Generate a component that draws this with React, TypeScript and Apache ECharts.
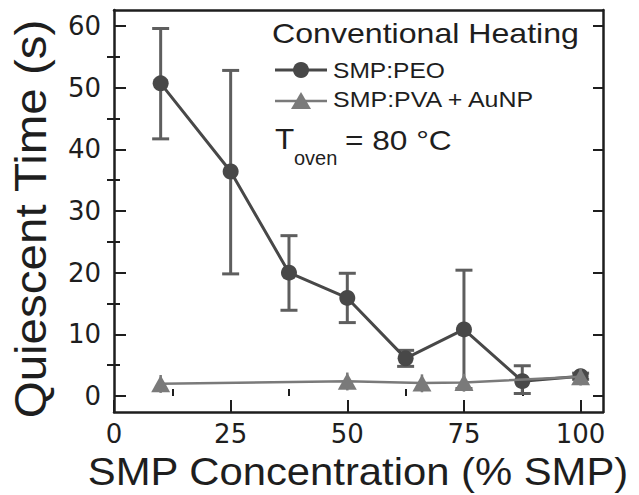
import React, { useEffect, useRef } from "react";
import * as echarts from "echarts";

// ---- data ----
const peoX = [10, 25, 37.5, 50, 62.5, 75, 87.5, 100];
const peoY = [50.7, 36.4, 20.0, 15.9, 6.1, 10.8, 2.4, 3.2];
const peoLow = [41.7, 19.8, 13.9, 11.9, 4.8, 1.2, 0.4, 2.7];
const peoHigh = [59.6, 52.8, 26.0, 19.9, 7.4, 20.4, 4.9, 3.7];

const pvaX = [10, 50, 66, 75, 100];
const pvaY = [2.0, 2.4, 2.1, 2.2, 3.1];
const pvaLow = [0.5, 0.9, 0.6, 0.7, 1.7];
const pvaHigh = [3.4, 3.8, 3.5, 3.6, 4.4];

const xMajor = [0, 25, 50, 75, 100];
const xMinor = [12.5, 37.5, 62.5, 87.5];
const yMajor = [0, 10, 20, 30, 40, 50, 60];
const yMinor = [5, 15, 25, 35, 45, 55];

const X_MIN = 0;
const X_MAX = 104.8;
const Y_MIN = -2.6;
const Y_MAX = 62.6;

const PEO_COLOR = "#484848";
const PEO_ERR = "#5e5e5e";
const PVA_COLOR = "#7a7a7a";
const AXIS = "#1e1e1e";
const FONT = "'Liberation Sans', Arial, sans-serif";
const TICK_FONT = "'DejaVu Sans', sans-serif";

function makeErr(capHalf: number, color: string, width: number) {
  return (params: any, api: any) => {
    const x = api.value(0);
    const lo = api.value(1);
    const hi = api.value(2);
    const top = api.coord([x, hi]);
    const bot = api.coord([x, lo]);
    const style = { stroke: color, lineWidth: width };
    const children: any[] = [
      { type: "line", shape: { x1: top[0], y1: top[1], x2: bot[0], y2: bot[1] }, style },
    ];
    if (capHalf > 0) {
      children.push(
        { type: "line", shape: { x1: top[0] - capHalf, y1: top[1], x2: top[0] + capHalf, y2: top[1] }, style },
        { type: "line", shape: { x1: bot[0] - capHalf, y1: bot[1], x2: bot[0] + capHalf, y2: bot[1] }, style }
      );
    }
    return { type: "group", children };
  };
}

function xAxisBase(position: string) {
  return {
    type: "value",
    min: X_MIN,
    max: X_MAX,
    position,
    offset: 0,
    splitLine: { show: false },
    axisLine: { show: false },
    axisTick: { show: false },
    axisLabel: { show: false },
  };
}
function yAxisBase(position: string) {
  return {
    type: "value",
    min: Y_MIN,
    max: Y_MAX,
    position,
    offset: 0,
    splitLine: { show: false },
    axisLine: { show: false },
    axisTick: { show: false },
    axisLabel: { show: false },
  };
}

export default function App() {
  const ref = useRef<HTMLDivElement>(null);
  useEffect(() => {
    if (!ref.current) return;
    const chart = echarts.init(ref.current, null, { renderer: "svg" });
    const lineStyle = { color: AXIS, width: 2.5 };
    const tickStyle = { color: AXIS, width: 2 };
    const option: any = {
      animation: false,
      backgroundColor: "#ffffff",
      grid: { left: 114, right: 36, top: 10, bottom: 83, outerBoundsMode: "none", containLabel: false },
      xAxis: [
        {
          ...xAxisBase("bottom"),
          axisLine: { show: true, onZero: false, lineStyle },
          axisTick: { show: true, inside: true, length: 12, customValues: xMajor, lineStyle: tickStyle },
          axisLabel: {
            show: true,
            customValues: xMajor,
            fontSize: 26,
            fontFamily: TICK_FONT,
            color: "#1e1e1e",
            margin: 9,
          },
        },
        {
          ...xAxisBase("bottom"),
          axisTick: { show: true, inside: true, length: 7, customValues: xMinor, lineStyle: tickStyle },
        },
        {
          ...xAxisBase("top"),
          axisLine: { show: true, onZero: false, lineStyle },
        },
      ],
      yAxis: [
        {
          ...yAxisBase("left"),
          axisLine: { show: true, onZero: false, lineStyle },
          axisTick: { show: true, inside: true, length: 12, customValues: yMajor, lineStyle: tickStyle },
          axisLabel: {
            show: true,
            customValues: yMajor,
            fontSize: 26,
            fontFamily: TICK_FONT,
            color: "#1e1e1e",
            margin: 13,
          },
        },
        {
          ...yAxisBase("left"),
          axisTick: { show: true, inside: true, length: 6, customValues: yMinor, lineStyle: tickStyle },
        },
        {
          ...yAxisBase("right"),
          axisLine: { show: true, onZero: false, lineStyle },
          axisTick: { show: true, inside: true, length: 10, customValues: yMajor, lineStyle: tickStyle },
        },
        {
          ...yAxisBase("right"),
          axisTick: { show: true, inside: true, length: 7, customValues: yMinor, lineStyle: tickStyle },
        },
      ],
      series: [
        {
          type: "custom",
          name: "PEO err",
          xAxisIndex: 0,
          yAxisIndex: 0,
          renderItem: makeErr(8.5, PEO_ERR, 3),
          data: peoX.map((x, i) => [x, peoLow[i], peoHigh[i]]),
          encode: { x: 0, y: [1, 2] },
          z: 2,
        },
        {
          type: "line",
          name: "SMP:PEO",
          xAxisIndex: 0,
          yAxisIndex: 0,
          data: peoX.map((x, i) => [x, peoY[i]]),
          symbol: "circle",
          symbolSize: 16,
          itemStyle: { color: PEO_COLOR },
          lineStyle: { color: PEO_COLOR, width: 3 },
          z: 3,
        },
        {
          type: "custom",
          name: "PVA err",
          xAxisIndex: 0,
          yAxisIndex: 0,
          renderItem: makeErr(0, PVA_COLOR, 2.5),
          data: pvaX.map((x, i) => [x, pvaLow[i], pvaHigh[i]]),
          encode: { x: 0, y: [1, 2] },
          z: 4,
        },
        {
          type: "line",
          name: "SMP:PVA + AuNP",
          xAxisIndex: 0,
          yAxisIndex: 0,
          data: pvaX.map((x, i) => [x, pvaY[i]]),
          symbol: "triangle",
          symbolSize: [19, 17],
          itemStyle: { color: PVA_COLOR },
          lineStyle: { color: PVA_COLOR, width: 2.5 },
          z: 5,
        },
      ],
      graphic: [
        {
          type: "text",
          x: 272,
          y: 33,
          scaleX: 1.147,
          style: { text: "Conventional Heating", fontSize: 28, fontFamily: FONT, fill: "#1e1e1e", align: "left", verticalAlign: "middle" },
        },
        { type: "line", shape: { x1: 275, y1: 70, x2: 327, y2: 70 }, style: { stroke: PEO_COLOR, lineWidth: 3 } },
        { type: "circle", shape: { cx: 301, cy: 70, r: 8 }, style: { fill: PEO_COLOR } },
        {
          type: "text",
          x: 333,
          y: 70,
          scaleX: 1.117,
          style: { text: "SMP:PEO", fontSize: 22, fontFamily: FONT, fill: "#1e1e1e", align: "left", verticalAlign: "middle" },
        },
        { type: "line", shape: { x1: 275, y1: 101, x2: 327, y2: 101 }, style: { stroke: PVA_COLOR, lineWidth: 2.5 } },
        { type: "polygon", shape: { points: [[291, 109], [311, 109], [301, 92]] }, style: { fill: PVA_COLOR } },
        {
          type: "text",
          x: 333,
          y: 100,
          scaleX: 1.136,
          style: { text: "SMP:PVA + AuNP", fontSize: 22, fontFamily: FONT, fill: "#1e1e1e", align: "left", verticalAlign: "middle" },
        },
        {
          type: "text",
          x: 275,
          y: 139,
          scaleX: 1.05,
          style: { text: "T", fontSize: 30, fontFamily: FONT, fill: "#1e1e1e", align: "left", verticalAlign: "middle" },
        },
        {
          type: "text",
          x: 294,
          y: 158,
          style: { text: "oven", fontSize: 20, fontFamily: FONT, fill: "#1e1e1e", align: "left", verticalAlign: "middle" },
        },
        {
          type: "text",
          x: 345,
          y: 140,
          scaleX: 1.13,
          style: { text: "= 80 °C", fontSize: 28, fontFamily: FONT, fill: "#1e1e1e", align: "left", verticalAlign: "middle" },
        },
        {
          type: "text",
          x: 31,
          y: 219,
          rotation: Math.PI / 2,
          scaleX: 1.08,
          style: { text: "Quiescent Time (s)", fontSize: 44, fontFamily: FONT, fill: "#1e1e1e", align: "center", verticalAlign: "middle" },
        },
        {
          type: "text",
          x: 358,
          y: 472,
          scaleX: 1.1,
          style: { text: "SMP Concentration (% SMP)", fontSize: 38, fontFamily: FONT, fill: "#1e1e1e", align: "center", verticalAlign: "middle" },
        },
      ],
    };
    chart.setOption(option);
    return () => chart.dispose();
  }, []);
  return (
    <div
      ref={ref}
      style={{ position: "absolute", left: 0, top: 0, width: 639, height: 495, background: "#fff" }}
    />
  );
}
